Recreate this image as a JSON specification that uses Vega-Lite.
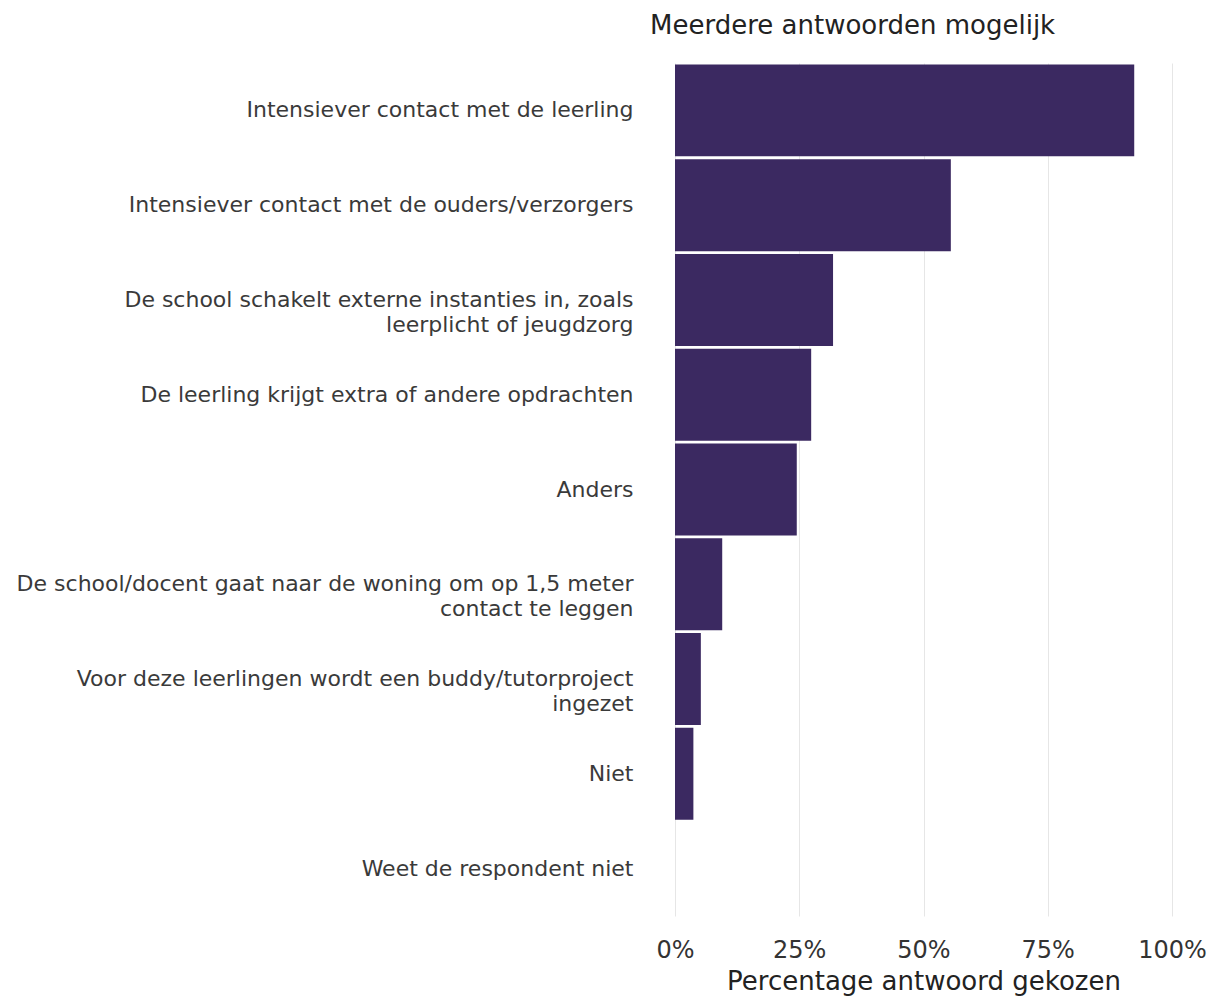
{
  "$schema": "https://vega.github.io/schema/vega-lite/v6.json",
  "autosize": "none",
  "width": 497,
  "height": 853,
  "padding": {"left": 675, "top": 63, "right": 50, "bottom": 80},
  "background": "white",
  "title": {
    "text": "Meerdere antwoorden mogelijk",
    "anchor": "start",
    "frame": "group",
    "dx": -25,
    "offset": 24,
    "font": "DejaVu Sans",
    "fontSize": 26,
    "fontWeight": "normal",
    "color": "#222222"
  },
  "data": {
    "values": [
      {"antwoord": "Intensiever contact met de leerling", "pct": 0.924},
      {"antwoord": "Intensiever contact met de ouders/verzorgers", "pct": 0.555},
      {"antwoord": "De school schakelt externe instanties in, zoals|leerplicht of jeugdzorg", "pct": 0.318},
      {"antwoord": "De leerling krijgt extra of andere opdrachten", "pct": 0.274},
      {"antwoord": "Anders", "pct": 0.245},
      {"antwoord": "De school/docent gaat naar de woning om op 1,5 meter|contact te leggen", "pct": 0.095},
      {"antwoord": "Voor deze leerlingen wordt een buddy/tutorproject|ingezet", "pct": 0.052},
      {"antwoord": "Niet", "pct": 0.037},
      {"antwoord": "Weet de respondent niet", "pct": 0.0}
    ]
  },
  "mark": {"type": "bar", "color": "#3b2961"},
  "encoding": {
    "y": {
      "field": "antwoord",
      "type": "nominal",
      "sort": null,
      "scale": {"paddingInner": 0.03, "paddingOuter": 0.015},
      "axis": {
        "title": null,
        "domain": false,
        "ticks": false,
        "labelExpr": "split(datum.label, '|')",
        "labelFont": "DejaVu Sans",
        "labelFontSize": 22,
        "labelColor": "#3a3a3a",
        "labelPadding": 42,
        "labelLineHeight": 25,
        "labelLimit": 700
      }
    },
    "x": {
      "field": "pct",
      "type": "quantitative",
      "scale": {"domain": [0, 1]},
      "axis": {
        "title": "Percentage antwoord gekozen",
        "format": ".0%",
        "values": [0, 0.25, 0.5, 0.75, 1],
        "domain": false,
        "ticks": false,
        "grid": true,
        "gridColor": "#e6e6e6",
        "labelFlush": false,
        "labelFont": "DejaVu Sans",
        "labelFontSize": 24,
        "labelColor": "#333333",
        "labelPadding": 22,
        "titleFont": "DejaVu Sans",
        "titleFontSize": 26,
        "titleFontWeight": "normal",
        "titleColor": "#222222",
        "titlePadding": 6
      }
    }
  },
  "config": {"view": {"stroke": null}}
}
